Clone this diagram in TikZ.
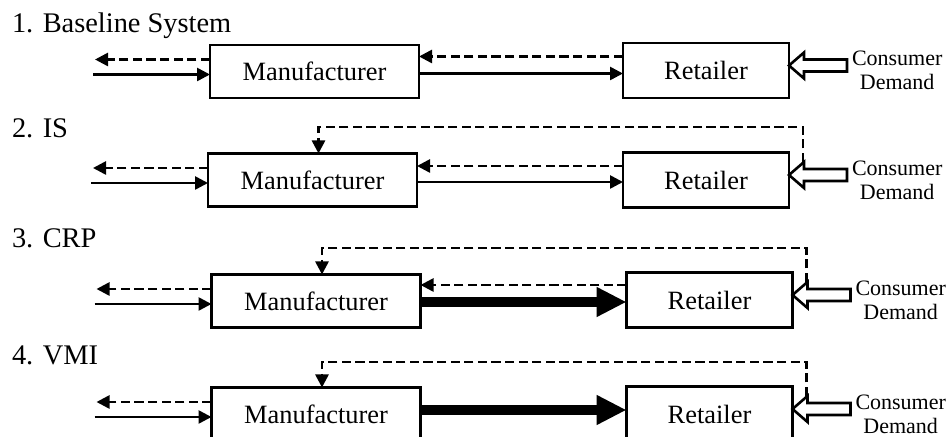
\documentclass[tikz,border=0pt]{standalone}
\usepackage{fontspec}
\setmainfont{Liberation Serif}
\usepackage{tikz}
\usetikzlibrary{arrows.meta,calc,positioning}

\begin{document}
\begin{tikzpicture}[x=0.5pt,y=-0.5pt,inner sep=0,outer sep=0,
    box/.style={draw=black,line width=1.4pt,fill=white,font=\fontsize{13.2}{15}\selectfont},
    mbox/.style={box,minimum width=104.5pt,minimum height=26.5pt},
    rbox/.style={box,minimum width=83pt,minimum height=27.5pt},
    title/.style={anchor=base west,font=\fontsize{14.2}{16}\selectfont},
    cd/.style={align=center,font=\fontsize{11}{12}\selectfont},
    goods/.style={line width=1.3pt,-{Triangle[length=6.5pt,width=6.5pt]}},
    info/.style={goods,dash pattern=on 4.6pt off 2.2pt},
    bulk/.style={line width=5pt,-{Triangle[length=15pt,width=14pt]}},
    hollow/.style={draw=black,line width=1.3pt,fill=white}]

   \useasboundingbox (0,0) rectangle (948,437);

   % Syntax: \demand(retailer node)
   \def\demand(#1){\draw[hollow] ([yshift=2.5pt]#1.east) -- ++(7.5pt,6.5pt) -- ++(0,-3.5pt)
      -- ++(21.5pt,0) -- ++(0,-6pt) -- ++(-21.5pt,0) -- ++(0,-3.5pt) -- cycle;}

   % 1. Baseline
   \node[title] (t1) at (12,33) {1. Baseline System};
   \node[mbox] (m1) at (314.5,71.5) {Manufacturer};
   \node[rbox] (r1) at (706,70.5) {Retailer};
   \node[cd,right=31.5pt of r1] (c1) {Consumer\\Demand};
   \coordinate (o1) at ([xshift=-57.5pt,yshift=6pt]m1.west);
   \coordinate (i1) at ([xshift=-58.5pt,yshift=-1.5pt]m1.west);
   \draw[info] (o1 -| m1.west) -- (o1);
   \draw[goods] (i1) -- (i1 -| m1.west);
   \draw[info] ([yshift=7pt]r1.west) -- ([yshift=7pt]r1.west -| m1.east);
   \draw[goods] ([yshift=-1pt]m1.east) -- ([yshift=-1pt]m1.east -| r1.west);
   \demand(r1)

   % 2. IS
   \node[title] (t2) at (12,138) {2. IS};
   \node[mbox] (m2) at (312.5,180) {Manufacturer};
   \node[rbox] (r2) at (706,180) {Retailer};
   \node[cd,right=31.5pt of r2] (c2) {Consumer\\Demand};
   \coordinate (o2) at ([xshift=-57.5pt,yshift=6pt]m2.west);
   \coordinate (i2) at ([xshift=-58.5pt,yshift=-1.5pt]m2.west);
   \draw[info] (o2 -| m2.west) -- (o2);
   \draw[goods] (i2) -- (i2 -| m2.west);
   \draw[info] ([yshift=7pt]r2.west) -- ([yshift=7pt]r2.west -| m2.east);
   \draw[goods] ([yshift=-1pt]m2.east) -- ([yshift=-1pt]m2.east -| r2.west);
   \demand(r2)
   \draw[info] ([xshift=7pt,yshift=9pt]r2.east) -- ([xshift=7pt,yshift=26.5pt]r2.east) -| ([xshift=3pt]m2.north);

   % 3. CRP
   \node[title] (t3) at (12,248) {3. CRP};
   \node[mbox] (m3) at (316,301) {Manufacturer};
   \node[rbox] (r3) at (709.5,300) {Retailer};
   \node[cd,right=31.5pt of r3] (c3) {Consumer\\Demand};
   \coordinate (o3) at ([xshift=-57.5pt,yshift=6pt]m3.west);
   \coordinate (i3) at ([xshift=-58.5pt,yshift=-1.5pt]m3.west);
   \draw[info] (o3 -| m3.west) -- (o3);
   \draw[goods] (i3) -- (i3 -| m3.west);
   \draw[info] ([yshift=7.5pt]r3.west) -- ([yshift=7.5pt]r3.west -| m3.east);
   \draw[bulk] ([yshift=-0.5pt]m3.east) -- ([yshift=-0.5pt]m3.east -| r3.west);
   \demand(r3)
   \draw[info] ([xshift=7pt,yshift=9pt]r3.east) -- ([xshift=7pt,yshift=26pt]r3.east) -| ([xshift=3pt]m3.north);

   % 4. VMI
   \node[title] (t4) at (12,365) {4. VMI};
   \node[mbox] (m4) at (316,414) {Manufacturer};
   \node[rbox] (r4) at (709.5,414) {Retailer};
   \node[cd,right=31.5pt of r4] (c4) {Consumer\\Demand};
   \coordinate (o4) at ([xshift=-57.5pt,yshift=6pt]m4.west);
   \coordinate (i4) at ([xshift=-58.5pt,yshift=-1.5pt]m4.west);
   \draw[info] (o4 -| m4.west) -- (o4);
   \draw[goods] (i4) -- (i4 -| m4.west);
   \draw[bulk] ([yshift=2pt]m4.east) -- ([yshift=2pt]m4.east -| r4.west);
   \demand(r4)
   \draw[info] ([xshift=7pt,yshift=9pt]r4.east) -- ([xshift=7pt,yshift=26pt]r4.east) -| ([xshift=3pt]m4.north);

\end{tikzpicture}
\end{document}
